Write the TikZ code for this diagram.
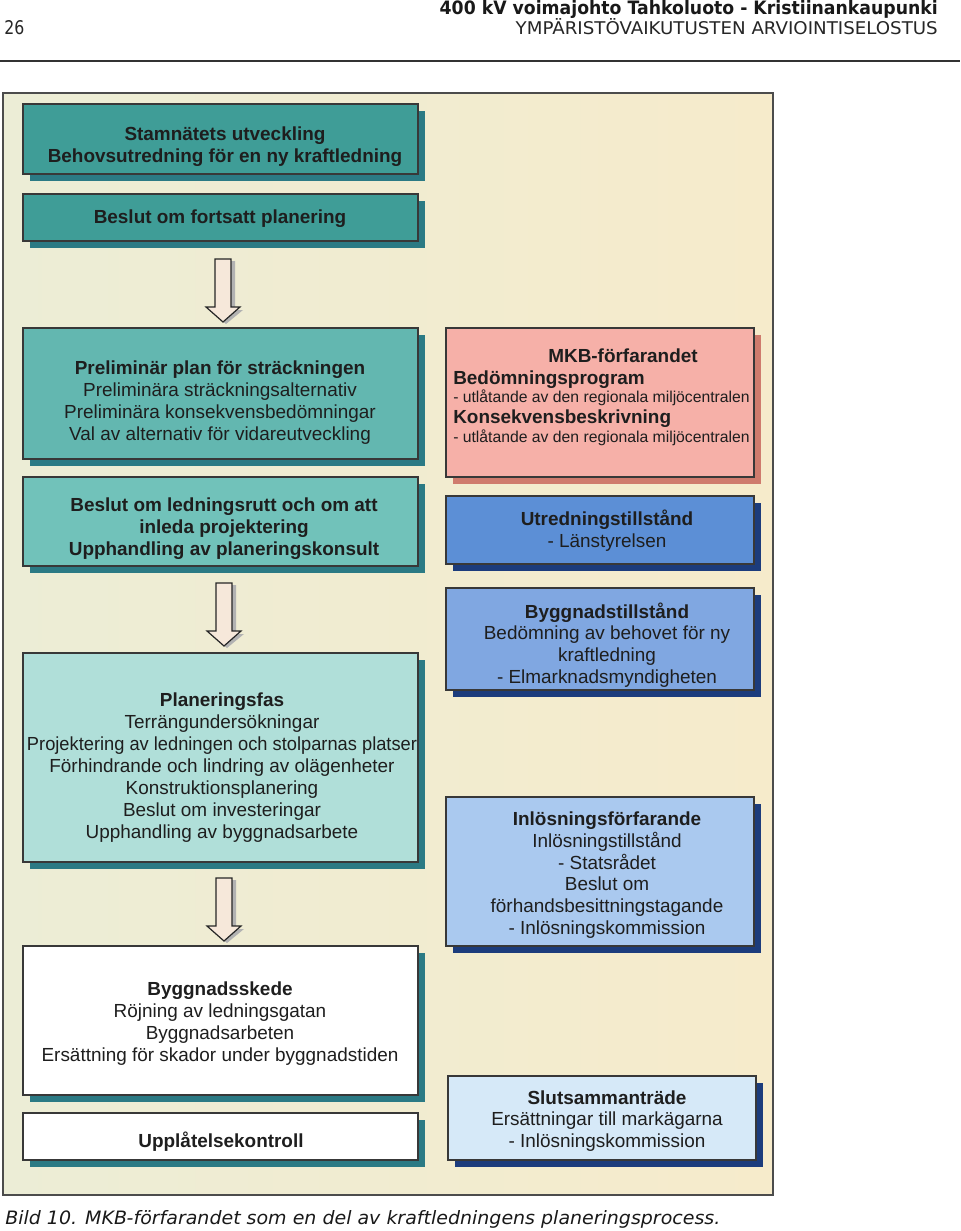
\documentclass[tikz,border=0pt]{standalone}
\usepackage{fontspec}
\setmainfont{Liberation Sans}
\newfontfamily\dvs{DejaVu Sans}
\usetikzlibrary{shadows,fit,calc}
\definecolor{tealA}{HTML}{3F9D97}
\definecolor{tealSh}{HTML}{2B7A84}
\definecolor{tealB}{HTML}{63B7B0}
\definecolor{tealC}{HTML}{71C2BA}
\definecolor{tealD}{HTML}{B0DFD9}
\definecolor{pinkA}{HTML}{F6B0A8}
\definecolor{pinkSh}{HTML}{CF7B6D}
\definecolor{blueA}{HTML}{5C8FD6}
\definecolor{blueB}{HTML}{80A7E1}
\definecolor{blueC}{HTML}{AAC9EF}
\definecolor{blueD}{HTML}{D6E9F8}
\definecolor{navySh}{HTML}{1C3C7C}
\definecolor{bgA}{HTML}{ECEDD6}
\definecolor{bgB}{HTML}{F6EBCB}
\definecolor{arrowF}{HTML}{F6E8DA}
\definecolor{ink}{HTML}{1E1E1E}
\tikzset{
  bx/.style={draw=black!78, line width=0.9pt, inner sep=0pt, fill=#1},
  tsh/.style={general shadow={fill=tealSh, shadow xshift=5.25pt, shadow yshift=-5.25pt}},
  psh/.style={general shadow={fill=pinkSh, shadow xshift=5.25pt, shadow yshift=-5.25pt}},
  nsh/.style={general shadow={fill=navySh, shadow xshift=5.25pt, shadow yshift=-5.25pt}},
  txt/.style={align=center, text=ink, inner sep=0pt, font=\fontsize{14.2}{16.5}\selectfont},
  txtr/.style={align=center, text=ink, inner sep=0pt, font=\fontsize{14.2}{16.3}\selectfont},
  sml/.style={text=ink, inner sep=0pt, anchor=base west, font=\fontsize{11.8}{14}\selectfont},
  blockarrow/.style={draw=black!85, line width=0.9pt, fill=arrowF, line join=miter}
}
\newcommand{\downarrowshape}[1]{%
  \fill[black!30] ($(#1)+(-6,2)$) -- ++(0,49) -- ++(-8,0) -- ++(17,14) -- ++(17,-14) -- ++(-8,0) -- ++(0,-49) -- cycle;
  \draw[blockarrow] ($(#1)+(-8,0)$) -- ++(0,48) -- ++(-9,0) -- ++(17,15) -- ++(17,-15) -- ++(-9,0) -- ++(0,-48) -- cycle;}
\begin{document}
\begin{tikzpicture}[x=0.75pt,y=-0.75pt]
\useasboundingbox (0,0) rectangle (960,1231);
\fill[white] (0,0) rectangle (960,1231);
% header
\node[anchor=base west, inner sep=0pt, text=black!85] (pg) at (4,35) {\resizebox{15pt}{10.5pt}{\dvs 26}};
\node[anchor=base east, inner sep=0pt, text=black!90] (h1) at (938,15) {\resizebox{373.5pt}{10.5pt}{\dvs\bfseries 400 kV voimajohto Tahkoluoto - Kristiinankaupunki}};
\node[anchor=base east, inner sep=0pt, text=black!85] (h2) at (938,35) {\resizebox{316.5pt}{12pt}{\dvs YMPÄRISTÖVAIKUTUSTEN ARVIOINTISELOSTUS}};
\draw[line width=1.5pt, black!80] (0,61) -- (960,61);
% frame
\shade[left color=bgA, right color=bgB] (3,93) rectangle (773,1195);
\draw[black!70, line width=0.8pt] (3,93) rectangle (773,1195);
% left column boxes
\node[bx=tealA, tsh, fit={(23,104) (418,174)}] (b1) {};
\node[bx=tealA, tsh, fit={(23,194) (418,241)}] (b2) {};
\node[bx=tealB, tsh, fit={(23,328) (418,459)}] (b3) {};
\node[bx=tealC, tsh, fit={(23,477) (418,566)}] (b4) {};
\node[bx=tealD, tsh, fit={(23,653) (418,862)}] (b5) {};
\node[bx=white, tsh, fit={(23,946) (418,1095)}] (b6) {};
\node[bx=white, tsh, fit={(23,1113) (418,1160)}] (b7) {};
% right column boxes
\node[bx=pinkA, psh, fit={(446,328) (754,477)}] (r1) {};
\node[bx=blueA, nsh, fit={(446,496) (754,564)}] (r2) {};
\node[bx=blueB, nsh, fit={(446,588) (754,690)}] (r3) {};
\node[bx=blueC, nsh, fit={(446,797) (754,946)}] (r4) {};
\node[bx=blueD, nsh, fit={(448,1076) (756,1160)}] (r5) {};
% arrows
\coordinate (a1) at (223,259);
\coordinate (a2) at (224,583);
\coordinate (a3) at (224,878);
\downarrowshape{a1}
\downarrowshape{a2}
\downarrowshape{a3}
% left texts
\node[txt] (t1) at (225,147) {\textbf{Stamnätets utveckling}\\\textbf{Behovsutredning för en ny kraftledning}};
\node[txt] (t2) at (220,219) {\textbf{Beslut om fortsatt planering}};
\node[txt] (t3) at (220,403) {\textbf{Preliminär plan för sträckningen}\\Preliminära sträckningsalternativ\\Preliminära konsekvensbedömningar\\Val av alternativ för vidareutveckling};
\node[txt] (t4) at (224,529) {\textbf{Beslut om ledningsrutt och om att}\\\textbf{inleda projektering}\\\textbf{Upphandling av planeringskonsult}};
\node[txt] (t5) at (222,768) {\textbf{Planeringsfas}\\Terrängundersökningar\\\scalebox{0.965}[1]{Projektering av ledningen och stolparnas platser}\\Förhindrande och lindring av olägenheter\\Konstruktionsplanering\\Beslut om investeringar\\Upphandling av byggnadsarbete};
\node[txt] (t6) at (220,1024) {\textbf{Byggnadsskede}\\Röjning av ledningsgatan\\Byggnadsarbeten\\Ersättning för skador under byggnadstiden};
\node[txt] (t7) at (221,1142) {\textbf{Upplåtelsekontroll}};
% right texts
\node[txt] (m0) at (623,356) {\textbf{MKB-förfarandet}};
\node[sml, font=\fontsize{14.2}{16}\selectfont\bfseries] (m1) at (453,384) {Bedömningsprogram};
\node[sml] (m2) at (453,402) {- utlåtande av den regionala miljöcentralen};
\node[sml, font=\fontsize{14.2}{16}\selectfont\bfseries] (m3) at (453,423) {Konsekvensbeskrivning};
\node[sml] (m4) at (453,442) {- utlåtande av den regionala miljöcentralen};
\node[txtr] (u1) at (607,531) {\textbf{Utredningstillstånd}\\- Länstyrelsen};
\node[txtr] (u2) at (607,645) {\textbf{Byggnadstillstånd}\\Bedömning av behovet för ny\\kraftledning\\- Elmarknadsmyndigheten};
\node[txtr] (u3) at (607,875) {\textbf{Inlösningsförfarande}\\Inlösningstillstånd\\- Statsrådet\\Beslut om\\förhandsbesittningstagande\\- Inlösningskommission};
\node[txtr] (u4) at (607,1121) {\textbf{Slutsammanträde}\\Ersättningar till markägarna\\- Inlösningskommission};
% caption
\node[anchor=base west, inner sep=0pt, text=black!90] (cap) at (5,1224) {\resizebox{536.25pt}{10.5pt}{\dvs\itshape Bild 10. MKB-förfarandet som en del av kraftledningens planeringsprocess.}};
\end{tikzpicture}
\end{document}
